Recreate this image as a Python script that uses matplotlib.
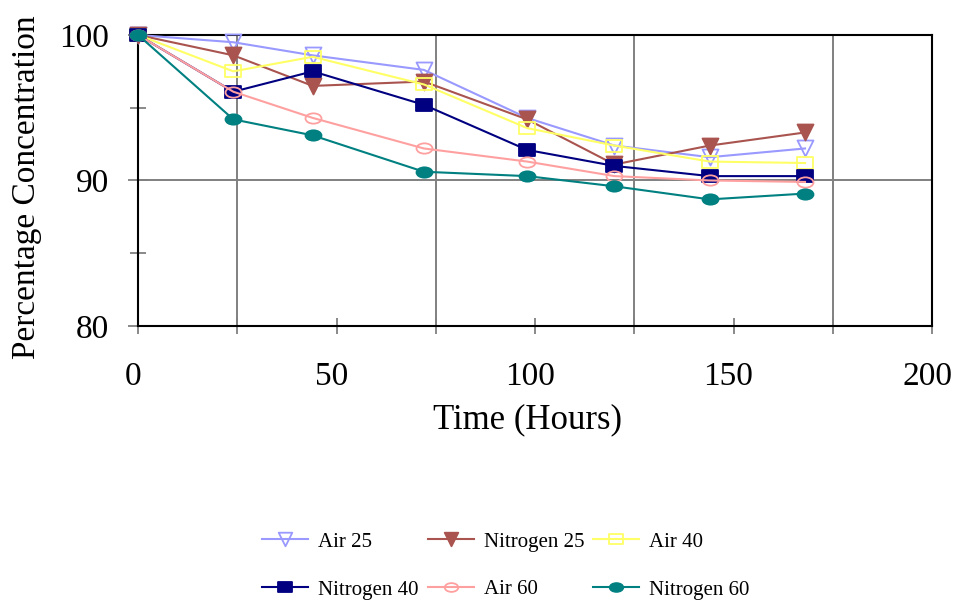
import matplotlib.pyplot as plt
from matplotlib.path import Path
from matplotlib.transforms import Affine2D, ScaledTranslation

plt.rcParams['font.family'] = ['Liberation Serif', 'DejaVu Serif']

# sampling times (hours) and concentrations (%)
hours = [0, 24, 44, 72, 98, 120, 144, 168]
air_25 = [100, 99.5, 98.6, 97.6, 94.3, 92.4, 91.6, 92.2]
nitrogen_25 = [100, 98.6, 96.5, 96.8, 94.2, 91.1, 92.4, 93.3]
air_40 = [100, 97.5, 98.5, 96.6, 93.6, 92.4, 91.3, 91.2]
nitrogen_40 = [100, 96.1, 97.5, 95.2, 92.1, 91.0, 90.3, 90.3]
air_60 = [100, 96.1, 94.3, 92.2, 91.3, 90.3, 90.0, 89.9]
nitrogen_60 = [100, 94.2, 93.1, 90.6, 90.3, 89.6, 88.7, 89.1]

labels = ['Air 25', 'Nitrogen 25', 'Air 40', 'Nitrogen 40', 'Air 60', 'Nitrogen 60']


# markers are a bit wider than tall
def squash(path, sx=1.45):
    return Affine2D().scale(sx, 1.0).transform_path(path)


ellipse = squash(Path.unit_circle(), 1.55)
rect = squash(Path.unit_rectangle().transformed(Affine2D().translate(-0.5, -0.5)))
tri = squash(Path([(-1, 1), (1, 1), (0, -1), (-1, 1)], closed=True), 1.0)

styles = [
    dict(color='#9999ff', marker=tri, mfc='none'),
    dict(color='#a9544f', marker=tri, mfc='#a9544f'),
    dict(color='#ffff66', marker=rect, mfc='none'),
    dict(color='#000080', marker=rect, mfc='#000080'),
    dict(color='#ffa0a0', marker=ellipse, mfc='none'),
    dict(color='#008080', marker=ellipse, mfc='#008080'),
]

fig = plt.figure(figsize=(9.54, 6.02), dpi=100)
ax = fig.add_axes([0.1447, 0.4585, 0.8323, 0.4834])

series = [air_25, nitrogen_25, air_40, nitrogen_40, air_60, nitrogen_60]
handles = []
for vals, lab, st in zip(series, labels, styles):
    h, = ax.plot(hours, vals, label=lab, lw=1.5, ms=11.5, mew=1.3,
                 color=st['color'], marker=st['marker'], mfc=st['mfc'], mec=st['color'],
                 clip_on=False, zorder=3)
    handles.append(h)

ax.set_xlim(0, 200)
ax.set_ylim(80, 100)
ax.set_xticks([0, 50, 100, 150, 200])
ax.set_xticks([25, 75, 125, 175], minor=True)
ax.set_yticks([80, 90, 100])
ax.set_yticks([85, 95], minor=True)
ax.tick_params(axis='both', which='both', direction='inout', color='#808080', width=1.3)
ax.tick_params(axis='x', which='major', length=11, labelsize=24, pad=20)
ax.tick_params(axis='x', which='minor', length=11)
ax.tick_params(axis='y', which='major', length=14, labelsize=24, pad=14)
ax.tick_params(axis='y', which='minor', length=12)

# x tick labels sit a few pixels left of their ticks
shift = ScaledTranslation(-5 / 100, 0, fig.dpi_scale_trans)
for t in ax.xaxis.get_major_ticks():
    t.label1.set_transform(t.label1.get_transform() + shift)

ax.grid(True, which='minor', axis='x', color='#808080', lw=1.4)
ax.grid(True, which='major', axis='y', color='#808080', lw=1.4)
ax.grid(False, which='major', axis='x')
ax.set_axisbelow(True)
for s in ax.spines.values():
    s.set_linewidth(1.5)
    s.set_color('black')

ax.set_xlabel('Time (Hours)', fontsize=25, labelpad=8)
ax.set_ylabel('Percentage Concentration', fontsize=24, labelpad=12)
ax.xaxis.label.set_x(0.491)
ax.yaxis.label.set_y(0.478)

# three legend columns at fixed spacing, two entries each
col_x = [262, 428, 593]
for i, x in enumerate(col_x):
    pair = [handles[i], handles[i + 3]]
    fig.legend(pair, [p.get_label() for p in pair], loc='upper left',
               bbox_to_anchor=(x / 954, 1 - 532 / 602), frameon=False,
               fontsize=15, handlelength=2.2, handletextpad=0.5, markerscale=0.85,
               labelspacing=1.36, borderpad=0, borderaxespad=0)

fig.savefig('out.png', dpi=100)
